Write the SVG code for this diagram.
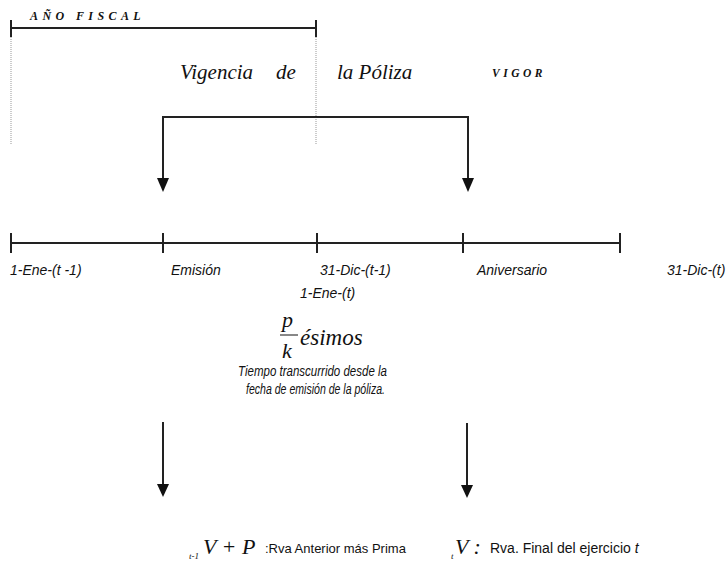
<svg xmlns="http://www.w3.org/2000/svg" width="726" height="584" viewBox="0 0 726 584">
  <style>
    .ln { stroke: #222; stroke-width: 2; fill: none; }
    .dot { stroke: #999; stroke-width: 1; stroke-dasharray: 1 1; fill: none; }
    .serif { font-family: "Liberation Serif", "Times New Roman", serif; font-style: italic; fill: #111; }
    .sans { font-family: "Liberation Sans", Arial, sans-serif; fill: #111; }
    .lbl { font-family: "Liberation Sans", Arial, sans-serif; font-style: italic; font-size: 14px; fill: #111; }
    .head { fill: #111; }
  </style>
  <rect width="726" height="584" fill="#fff"/>

  <!-- fiscal year bar -->
  <g id="anio-fiscal">
    <text class="serif" x="30" y="20" font-size="12" font-weight="bold" letter-spacing="4.4">AÑO FISCAL</text>
    <line class="ln" x1="11" y1="28" x2="316" y2="28"/>
    <line class="ln" x1="11" y1="20" x2="11" y2="37"/>
    <line class="ln" x1="316" y1="20" x2="316" y2="37"/>
    <line class="dot" x1="11" y1="37" x2="11" y2="144"/>
    <line class="dot" x1="316" y1="37" x2="316" y2="144"/>
  </g>

  <g id="vigencia">
    <text class="serif" x="180" y="79" font-size="21">Vigencia</text>
    <text class="serif" x="276" y="79" font-size="21">de</text>
    <text class="serif" x="337" y="79" font-size="21">la Póliza</text>
    <text class="serif" x="492" y="77" font-size="11.5" font-weight="bold" letter-spacing="3.5">VIGOR</text>
  </g>

  <!-- connectors -->
  <g id="connectors">
    <path class="ln" d="M163,180 V117 H468 V180"/>
    <path class="head" d="M157,178 L169,178 L163,192 Z"/>
    <path class="head" d="M462,178 L474,178 L468,192 Z"/>
    <line class="ln" x1="163" y1="422" x2="163" y2="486" stroke-width="1.5"/>
    <path class="head" d="M157,484 L169,484 L163,497 Z"/>
    <line class="ln" x1="467" y1="423" x2="467" y2="487" stroke-width="1.5"/>
    <path class="head" d="M461,485 L473,485 L467,498 Z"/>
  </g>

  <!-- timeline -->
  <g id="timeline">
    <line class="ln" x1="11" y1="243" x2="620" y2="243"/>
    <line class="ln" x1="11" y1="233" x2="11" y2="253"/>
    <line class="ln" x1="163" y1="233" x2="163" y2="253"/>
    <line class="ln" x1="317" y1="233" x2="317" y2="253"/>
    <line class="ln" x1="463" y1="233" x2="463" y2="253"/>
    <line class="ln" x1="620" y1="233" x2="620" y2="253"/>
  </g>

  <g id="lbl-inicio"><text class="lbl" x="10" y="275">1-Ene-(t -1)</text></g>
  <g id="lbl-emision"><text class="lbl" x="171" y="275">Emisión</text></g>
  <g id="lbl-cierre">
    <text class="lbl" x="320" y="275">31-Dic-(t-1)</text>
    <text class="lbl" x="300" y="298">1-Ene-(t)</text>
  </g>
  <g id="lbl-aniversario"><text class="lbl" x="477" y="275">Aniversario</text></g>
  <g id="lbl-fin"><text class="lbl" x="667" y="275">31-Dic-(t)</text></g>

  <!-- elapsed fraction -->
  <g id="fraccion">
    <text class="serif" x="282" y="327" font-size="22">p</text>
    <line x1="280" y1="335" x2="298" y2="335" stroke="#111" stroke-width="1"/>
    <text class="serif" x="282" y="358" font-size="22">k</text>
    <text class="serif" x="300" y="345" font-size="23">ésimos</text>
    <text class="lbl" x="238" y="376" font-size="12.5" textLength="149" lengthAdjust="spacingAndGlyphs">Tiempo transcurrido desde  la</text>
    <text class="lbl" x="246" y="394" font-size="12.5" textLength="139" lengthAdjust="spacingAndGlyphs">fecha de emisión de la póliza.</text>
  </g>

  <!-- reserves -->
  <g id="reserva-anterior">
    <text class="serif" x="189" y="559" font-size="9">t-1</text>
    <text class="serif" x="203" y="554" font-size="22">V + P</text>
    <text class="sans" x="265" y="553" font-size="13">:Rva Anterior más Prima</text>
  </g>
  <g id="reserva-final">
    <text class="serif" x="451" y="559" font-size="9">t</text>
    <text class="serif" x="455" y="554" font-size="22">V :</text>
    <text class="sans" x="490" y="553" font-size="14">Rva. Final del ejercicio <tspan font-style="italic">t</tspan></text>
  </g>
</svg>
